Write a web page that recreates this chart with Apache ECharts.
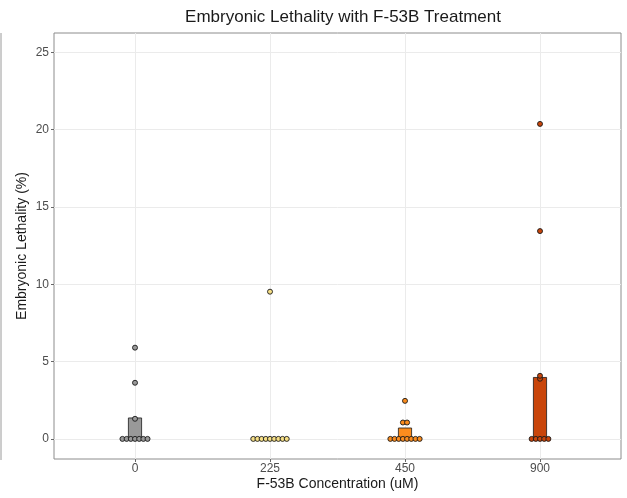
<!DOCTYPE html>
<html>
<head>
<meta charset="utf-8">
<script src="https://cdn.jsdelivr.net/npm/echarts@6/dist/echarts.min.js"></script>
<style>
  html, body { margin: 0; padding: 0; background: #fff; }
  #chart { width: 627px; height: 498px; }
</style>
</head>
<body>
<div id="chart"></div>
<script>
// F-53B concentration groups (uM)
const categories = ['0', '225', '450', '900'];
// Bar heights per group (%)
const barValues = [1.38, 0, 0.73, 4.0];
// Individual embryonic lethality observations per group (%)
const dots0 = [0, 0, 0, 0, 0, 0, 0, 1.3, 3.63, 5.9];
const dots225 = [0, 0, 0, 0, 0, 0, 0, 0, 0, 9.52];
const dots450 = [0, 0, 0, 0, 0, 0, 0, 0, 1.06, 1.06, 2.46];
const dots900 = [0, 0, 0, 0, 0, 3.89, 4.08, 13.44, 20.37];
const yTicks = [0, 5, 10, 15, 20, 25];

const groupDots = [dots0, dots225, dots450, dots900];
const groupColors = ['#999999', '#f6df86', '#fb8c1e', '#c9450a'];
const FONT = '"Liberation Sans", Arial, sans-serif';

// horizontal spacing between stacked dots, in category units
const DOT_STEP = 0.031;

// centre-stack identical values side by side
function stackDots(values, groupIndex) {
  const counts = {};
  values.forEach(v => { counts[v] = (counts[v] || 0) + 1; });
  const seen = {};
  return values.map(v => {
    const n = counts[v];
    const i = seen[v] || 0;
    seen[v] = i + 1;
    return [groupIndex + (i - (n - 1) / 2) * DOT_STEP, v];
  });
}

const dotSeries = groupDots.map((vals, g) => ({
  type: 'scatter',
  data: stackDots(vals, g),
  symbol: 'circle',
  symbolSize: 5,
  z: 5,
  itemStyle: { color: groupColors[g], borderColor: '#1a1a1a', borderWidth: 0.9, opacity: 1 },
  emphasis: { disabled: true },
  silent: true
}));

const barSeries = {
  type: 'bar',
  barWidth: 14,
  z: 3,
  data: barValues.map((v, g) => ({
    value: [g, v],
    itemStyle: { color: groupColors[g], borderColor: '#1a1a1a', borderWidth: 0.8 }
  })),
  silent: true
};

const chart = echarts.init(document.getElementById('chart'), null, { renderer: 'canvas' });
chart.setOption({
  animation: false,
  backgroundColor: '#ffffff',
  title: {
    text: 'Embryonic Lethality with F-53B Treatment',
    left: 338,
    textAlign: 'center',
    top: 4,
    textStyle: { fontFamily: FONT, fontSize: 17, fontWeight: 'normal', color: '#1a1a1a' }
  },
  grid: {
    left: 54, right: 6, top: 33, bottom: 39,
    outerBoundsMode: 'none',
    containLabel: false,
    show: true, borderColor: '#8c8c8c', borderWidth: 1, backgroundColor: '#fff'
  },
  xAxis: {
    type: 'value',
    min: -0.6,
    max: 3.6,
    name: 'F-53B Concentration (uM)',
    nameLocation: 'middle',
    nameGap: 18,
    nameMoveOverlap: false,
    nameTextStyle: { fontFamily: FONT, fontSize: 14, color: '#1a1a1a' },
    axisLine: { show: false, onZero: false },
    axisTick: { show: true, length: 3, lineStyle: { color: '#666' }, customValues: [0, 1, 2, 3] },
    axisLabel: {
      customValues: [0, 1, 2, 3],
      formatter: v => categories[Math.round(v)],
      fontFamily: FONT, fontSize: 12, color: '#4d4d4d', margin: 4
    },
    splitLine: { show: true, lineStyle: { color: '#ebebeb', width: 1 } }
  },
  yAxis: {
    type: 'value',
    min: -1.3,
    max: 26.25,
    name: 'Embryonic Lethality (%)',
    nameLocation: 'middle',
    nameGap: 25,
    nameMoveOverlap: false,
    nameTextStyle: { fontFamily: FONT, fontSize: 14, color: '#1a1a1a' },
    axisLine: { show: false, onZero: false },
    axisTick: { show: true, length: 3, lineStyle: { color: '#666' }, customValues: yTicks },
    axisLabel: {
      customValues: yTicks,
      fontFamily: FONT, fontSize: 12, color: '#4d4d4d', margin: 5
    },
    splitLine: { show: true, lineStyle: { color: '#ebebeb', width: 1 } }
  },
  graphic: [{
    type: 'line',
    shape: { x1: 1, y1: 33, x2: 1, y2: 460 },
    style: { stroke: '#9a9a9a', lineWidth: 1 },
    silent: true
  }],
  series: [barSeries].concat(dotSeries)
});
</script>
</body>
</html>
